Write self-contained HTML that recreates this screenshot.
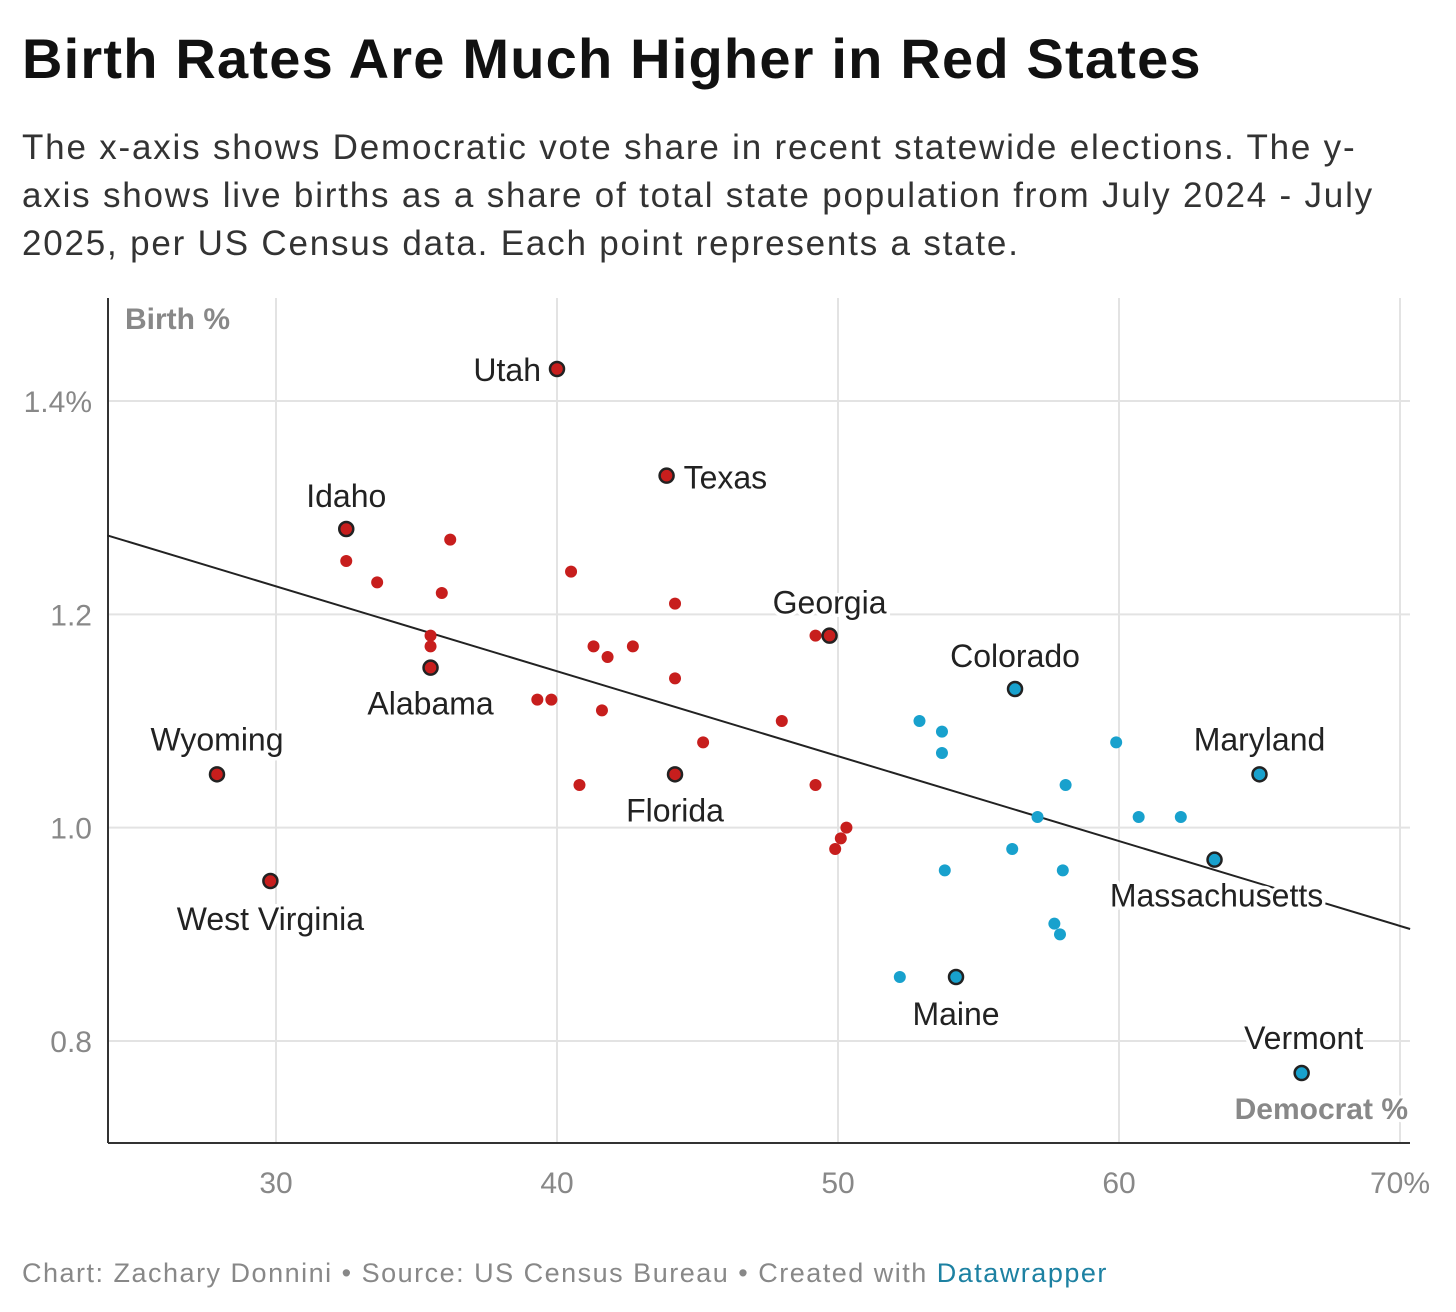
<!DOCTYPE html>
<html><head><meta charset="utf-8"><style>
body{margin:0;background:#fff;width:1456px;height:1312px;overflow:hidden;font-family:"Liberation Sans",Arial,sans-serif}
#title{position:absolute;left:22px;top:26px;font-size:56px;font-weight:bold;color:#111;letter-spacing:1.2px;margin:0;white-space:nowrap}
#sub{position:absolute;left:22px;top:124px;width:1420px;font-size:35px;line-height:48px;color:#333;margin:0;letter-spacing:1.8px;white-space:nowrap}
#foot{position:absolute;left:22px;top:1258px;font-size:27px;color:#888;letter-spacing:1.5px;white-space:nowrap}
#foot span{color:#1d81a2}
svg{position:absolute;left:0;top:0}
</style></head><body>
<h1 id="title">Birth Rates Are Much Higher in Red States</h1>
<p id="sub">The x-axis shows Democratic vote share in recent statewide elections. The y-<br>axis shows live births as a share of total state population from July 2024 - July<br>2025, per US Census data. Each point represents a state.</p>
<div id="foot">Chart: Zachary Donnini • Source: US Census Bureau • Created with <span>Datawrapper</span></div>
<svg id="chart" width="1456" height="1312"></svg>
<script>
const xTicks=[30,40,50,60,70];
const xTickLabels=["30","40","50","60","70%"];
const yTicks=[0.8,1.0,1.2,1.4];
const yTickLabels=["0.8","1.0","1.2","1.4%"];
const redX=[32.5,33.6,36.2,35.9,35.5,35.5,40.5,44.2,41.3,41.8,42.7,44.2,39.3,39.8,41.6,45.2,48.0,49.2,40.8,49.2,50.3,50.1,49.9];
const redY=[1.25,1.23,1.27,1.22,1.18,1.17,1.24,1.21,1.17,1.16,1.17,1.14,1.12,1.12,1.11,1.08,1.10,1.18,1.04,1.04,1.00,0.99,0.98];
const blueX=[52.9,53.7,53.7,59.9,58.1,57.1,60.7,62.2,56.2,53.8,58.0,57.7,57.9,52.2];
const blueY=[1.10,1.09,1.07,1.08,1.04,1.01,1.01,1.01,0.98,0.96,0.96,0.91,0.90,0.86];
const namedStates=["Utah","Texas","Idaho","Georgia","Colorado","Alabama","Wyoming","Florida","Maryland","West Virginia","Massachusetts","Maine","Vermont"];
const namedX=[40.0,43.9,32.5,49.7,56.3,35.5,27.9,44.2,65.0,29.8,63.4,54.2,66.5];
const namedY=[1.43,1.33,1.28,1.18,1.13,1.15,1.05,1.05,1.05,0.95,0.97,0.86,0.77];
const namedParty=["R","R","R","R","D","R","R","R","D","R","D","D","D"];
const trendX=[24.0,70.36];
const trendY=[1.274,0.905];

const X0=108,X1=1410,Y0=298,Y1=1143;
const sx=v=>276+(v-30)*28.1;
const sy=v=>401-(v-1.4)*1066.7;
const svg=document.getElementById('chart');
const NS='http://www.w3.org/2000/svg';
function mk(t,a){const e=document.createElementNS(NS,t);for(const k in a)e.setAttribute(k,a[k]);svg.appendChild(e);return e;}
xTicks.forEach((t,i)=>{
 const l=mk('line',{x1:sx(t),x2:sx(t),y1:Y0,y2:Y1,stroke:'#e3e3e3','stroke-width':2});
 
 
 const tx=mk('text',{x:sx(t),y:1193,'text-anchor':'middle','font-size':30,fill:'#888'});
 tx.textContent=xTickLabels[i];
 
 
});
yTicks.forEach((t,i)=>{
 const l=mk('line',{x1:X0,x2:X1,y1:sy(t),y2:sy(t),stroke:'#e3e3e3','stroke-width':2});
 
 
 const tx=mk('text',{x:92,y:sy(t)+11,'text-anchor':'end','font-size':30,fill:'#888'});
 tx.textContent=yTickLabels[i];
 
 
});
let a=mk('line',{x1:X0,x2:X0,y1:Y0,y2:Y1,stroke:'#333','stroke-width':2});


a=mk('line',{x1:X0,x2:X1,y1:Y1,y2:Y1,stroke:'#333','stroke-width':2});


let t=mk('text',{x:125,y:329,'font-size':30,'font-weight':'bold',fill:'#888'});
t.textContent='Birth %';


t=mk('text',{x:1408,y:1119,'text-anchor':'end','font-size':30,'font-weight':'bold',fill:'#888',stroke:'#fff','stroke-width':6,'paint-order':'stroke'});
t.textContent='Democrat %';


const tl=mk('line',{x1:sx(trendX[0]),y1:sy(trendY[0]),x2:sx(trendX[1]),y2:sy(trendY[1]),stroke:'#222','stroke-width':2});


redX.forEach((v,i)=>{
 const c=mk('circle',{cx:sx(v),cy:sy(redY[i]),r:6,fill:'#c71e1d'});
 
 
});
blueX.forEach((v,i)=>{
 const c=mk('circle',{cx:sx(v),cy:sy(blueY[i]),r:6,fill:'#18a1cd'});
 
 
});
const lo={"Utah":[-16,12,'end'],"Texas":[17,13,'start'],"Idaho":[0,-22,'middle'],"Georgia":[0,-22,'middle'],"Colorado":[0,-22,'middle'],"Alabama":[0,47,'middle'],"Wyoming":[0,-24,'middle'],"Florida":[0,47,'middle'],"Maryland":[0,-24,'middle'],"West Virginia":[0,49,'middle'],"Massachusetts":[2,47,'middle'],"Maine":[0,48,'middle'],"Vermont":[2,-24,'middle']};
namedStates.forEach((n,i)=>{
 const x=sx(namedX[i]),y=sy(namedY[i]);
 const c=mk('circle',{cx:x,cy:y,r:7,fill:namedParty[i]=='R'?'#c71e1d':'#18a1cd',stroke:'#222','stroke-width':2.5});
 
 
 const o=lo[n];
 const tx=mk('text',{x:x+o[0],y:y+o[1],'text-anchor':o[2],'font-size':32,fill:'#222',stroke:'#fff','stroke-width':7,'paint-order':'stroke'});
 tx.textContent=n;
 
 
});
</script>
</body></html>
